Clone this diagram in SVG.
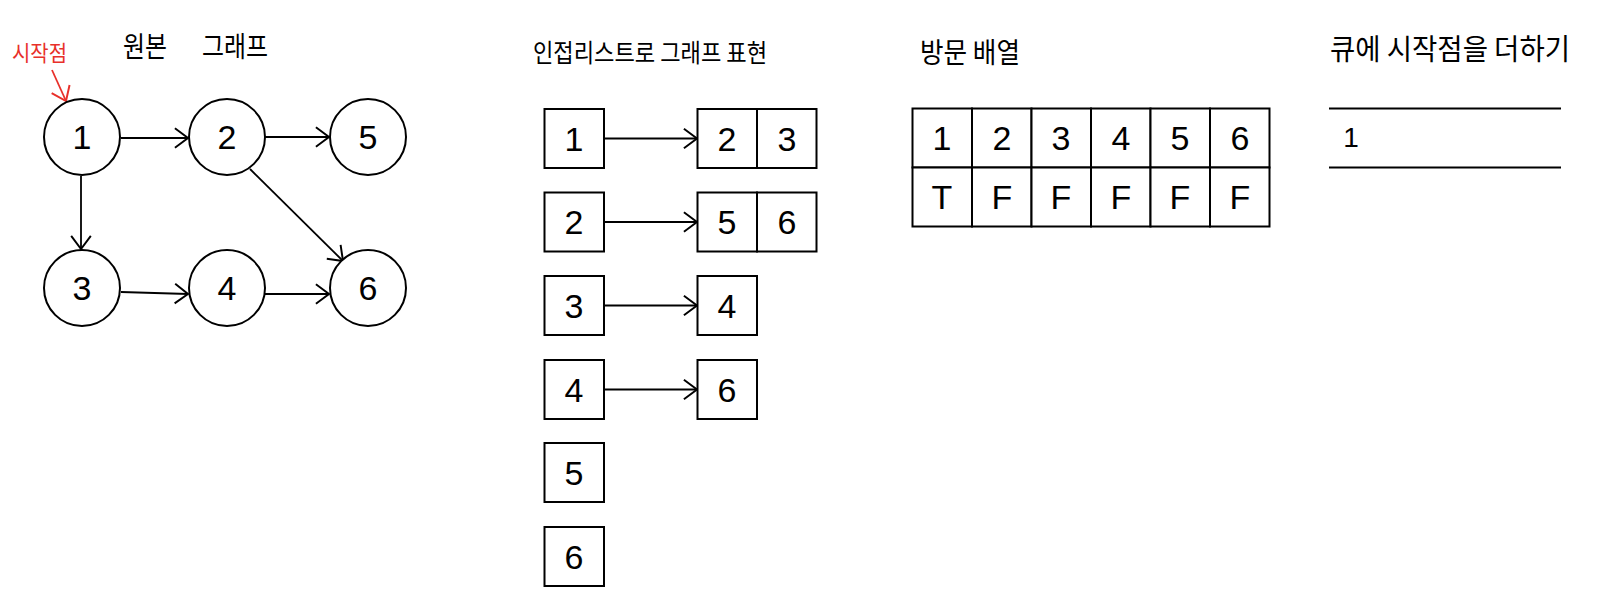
<svg xmlns="http://www.w3.org/2000/svg" width="1609" height="602" viewBox="0 0 1609 602">
<style>
.bg{fill:#ffffff}
.shape{fill:#ffffff;stroke:#000;stroke-width:2}
.edge{fill:none;stroke:#000;stroke-width:1.8}
.num{font-family:"Liberation Sans","Noto Sans",sans-serif;font-size:34px;fill:#000;text-anchor:middle;dominant-baseline:central}
.title{font-family:"Noto Sans CJK KR","Noto Sans",sans-serif;fill:#000;dominant-baseline:central}
.red{fill:#e8302a}
</style>
<defs>
<marker id="ah" markerUnits="userSpaceOnUse" markerWidth="16" markerHeight="24" viewBox="0 0 14 22" refX="13" refY="11" orient="auto">
<path d="M1,2 L13,11 L1,20" fill="none" stroke="#000" stroke-width="1.8"/>
</marker>
<marker id="ahr" markerUnits="userSpaceOnUse" markerWidth="16" markerHeight="24" viewBox="0 0 14 22" refX="13" refY="11" orient="auto">
<path d="M1,2 L13,11 L1,20" fill="none" stroke="#e8302a" stroke-width="1.8"/>
</marker>
</defs>
<rect class="bg" x="0" y="0" width="1609" height="602"/>

<!-- titles -->
<text class="title" x="123" y="45" font-size="28" textLength="44" lengthAdjust="spacingAndGlyphs">원본</text>
<text class="title" x="202" y="45" font-size="28" textLength="66" lengthAdjust="spacingAndGlyphs">그래프</text>
<text class="title red" x="12" y="51" font-size="22" textLength="55" lengthAdjust="spacingAndGlyphs">시작점</text>
<text class="title" x="533" y="51" font-size="25" textLength="234" lengthAdjust="spacingAndGlyphs">인접리스트로 그래프 표현</text>
<text class="title" x="920" y="51" font-size="28" textLength="100" lengthAdjust="spacingAndGlyphs">방문 배열</text>
<text class="title" x="1330" y="47" font-size="29" textLength="240" lengthAdjust="spacingAndGlyphs">큐에 시작점을 더하기</text>

<!-- connectors -->
<g id="connectors">
<line class="edge" x1="52" y1="70" x2="66" y2="101" marker-end="url(#ahr)" style="stroke:#e8302a"/>
<line class="edge" x1="121" y1="138" x2="188" y2="138" marker-end="url(#ah)"/>
<line class="edge" x1="265" y1="137" x2="329" y2="137" marker-end="url(#ah)"/>
<line class="edge" x1="81" y1="176" x2="81" y2="249" marker-end="url(#ah)"/>
<line class="edge" x1="121" y1="292" x2="188" y2="294" marker-end="url(#ah)"/>
<line class="edge" x1="265" y1="294" x2="329" y2="294" marker-end="url(#ah)"/>
<line class="edge" x1="250" y1="169" x2="343" y2="261" marker-end="url(#ah)"/>
<line class="edge" x1="604" y1="138.5" x2="697" y2="138.5" marker-end="url(#ah)"/>
<line class="edge" x1="604" y1="222" x2="697" y2="222" marker-end="url(#ah)"/>
<line class="edge" x1="604" y1="305.5" x2="697" y2="305.5" marker-end="url(#ah)"/>
<line class="edge" x1="604" y1="389.5" x2="697" y2="389.5" marker-end="url(#ah)"/>
</g>

<!-- graph nodes -->
<g id="g1"><circle class="shape" cx="82" cy="137" r="38"/><text class="num" x="82" y="137">1</text></g>
<g id="g2"><circle class="shape" cx="227" cy="137" r="38"/><text class="num" x="227" y="137">2</text></g>
<g id="g5"><circle class="shape" cx="368" cy="137" r="38"/><text class="num" x="368" y="137">5</text></g>
<g id="g3"><circle class="shape" cx="82" cy="288" r="38"/><text class="num" x="82" y="288">3</text></g>
<g id="g4"><circle class="shape" cx="227" cy="288" r="38"/><text class="num" x="227" y="288">4</text></g>
<g id="g6"><circle class="shape" cx="368" cy="288" r="38"/><text class="num" x="368" y="288">6</text></g>

<!-- adjacency list -->
<g id="a1"><rect class="shape" x="544.5" y="109" width="59.5" height="59"/><text class="num" x="574" y="138.5">1</text></g>
<g id="a1n"><rect class="shape" x="697.5" y="109" width="59.5" height="59"/><text class="num" x="727" y="138.5">2</text><rect class="shape" x="757" y="109" width="59.5" height="59"/><text class="num" x="787" y="138.5">3</text></g>
<g id="a2"><rect class="shape" x="544.5" y="192.5" width="59.5" height="59"/><text class="num" x="574" y="222">2</text></g>
<g id="a2n"><rect class="shape" x="697.5" y="192.5" width="59.5" height="59"/><text class="num" x="727" y="222">5</text><rect class="shape" x="757" y="192.5" width="59.5" height="59"/><text class="num" x="787" y="222">6</text></g>
<g id="a3"><rect class="shape" x="544.5" y="276" width="59.5" height="59"/><text class="num" x="574" y="305.5">3</text></g>
<g id="a3n"><rect class="shape" x="697.5" y="276" width="59.5" height="59"/><text class="num" x="727" y="305.5">4</text></g>
<g id="a4"><rect class="shape" x="544.5" y="360" width="59.5" height="59"/><text class="num" x="574" y="389.5">4</text></g>
<g id="a4n"><rect class="shape" x="697.5" y="360" width="59.5" height="59"/><text class="num" x="727" y="389.5">6</text></g>
<g id="a5"><rect class="shape" x="544.5" y="443" width="59.5" height="59"/><text class="num" x="574" y="472.5">5</text></g>
<g id="a6"><rect class="shape" x="544.5" y="527" width="59.5" height="59"/><text class="num" x="574" y="556.5">6</text></g>

<!-- visited array -->
<g id="visited">
<rect class="shape" x="912.5" y="108.5" width="59.5" height="59"/><text class="num" x="942" y="138">1</text>
<rect class="shape" x="972" y="108.5" width="59.5" height="59"/><text class="num" x="1002" y="138">2</text>
<rect class="shape" x="1031.5" y="108.5" width="59.5" height="59"/><text class="num" x="1061" y="138">3</text>
<rect class="shape" x="1091" y="108.5" width="59.5" height="59"/><text class="num" x="1121" y="138">4</text>
<rect class="shape" x="1150.5" y="108.5" width="59.5" height="59"/><text class="num" x="1180" y="138">5</text>
<rect class="shape" x="1210" y="108.5" width="59.5" height="59"/><text class="num" x="1240" y="138">6</text>
<rect class="shape" x="912.5" y="167.5" width="59.5" height="59"/><text class="num" x="942" y="197">T</text>
<rect class="shape" x="972" y="167.5" width="59.5" height="59"/><text class="num" x="1002" y="197">F</text>
<rect class="shape" x="1031.5" y="167.5" width="59.5" height="59"/><text class="num" x="1061" y="197">F</text>
<rect class="shape" x="1091" y="167.5" width="59.5" height="59"/><text class="num" x="1121" y="197">F</text>
<rect class="shape" x="1150.5" y="167.5" width="59.5" height="59"/><text class="num" x="1180" y="197">F</text>
<rect class="shape" x="1210" y="167.5" width="59.5" height="59"/><text class="num" x="1240" y="197">F</text>
</g>

<!-- queue -->
<g id="queue">
<line class="edge" x1="1329" y1="108.5" x2="1561" y2="108.5" style="stroke-width:2"/>
<line class="edge" x1="1329" y1="167.5" x2="1561" y2="167.5" style="stroke-width:2"/>
<text class="num" x="1351" y="137" style="font-size:28px">1</text>
</g>
</svg>
